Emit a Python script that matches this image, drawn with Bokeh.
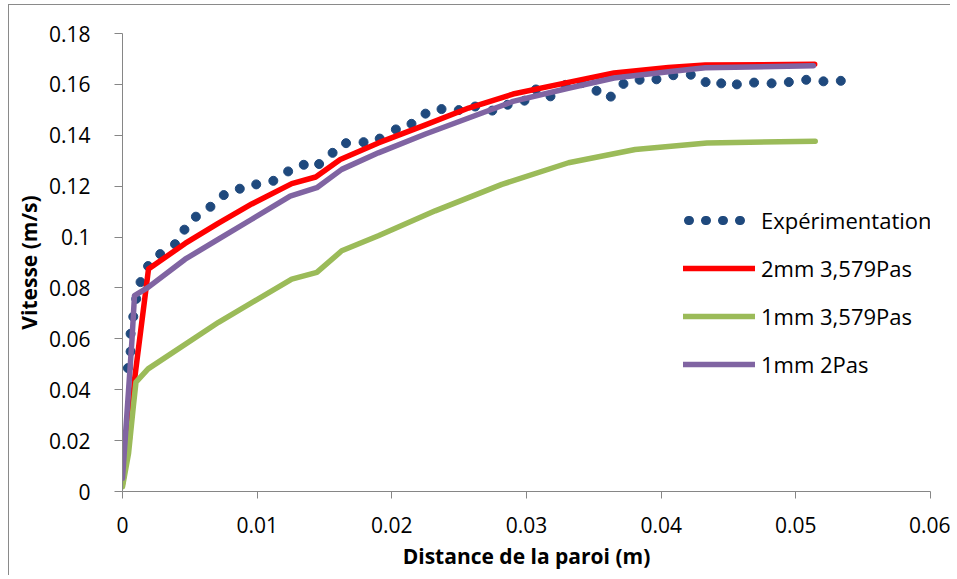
from bokeh.plotting import figure
from bokeh.models import Range1d, FixedTicker, CustomJSTickFormatter, Legend, LegendItem, ColumnDataSource
from bokeh.embed import file_html
from bokeh.resources import INLINE

# ---- data ----
x_ticks = [0, 0.01, 0.02, 0.03, 0.04, 0.05, 0.06]
y_ticks = [0, 0.02, 0.04, 0.06, 0.08, 0.1, 0.12, 0.14, 0.16, 0.18]

x_label = "Distance de la paroi (m)"
y_label = "Vitesse (m/s)"

series_names = ["Expérimentation", "2mm 3,579Pas", "1mm 3,579Pas", "1mm 2Pas"]

exp_x = [0.0004, 0.0006, 0.0006, 0.0008, 0.00102, 0.00134, 0.0019, 0.0028, 0.0039, 0.0046,
         0.00545, 0.00653, 0.00752, 0.00871, 0.00993, 0.0112, 0.0123, 0.01346, 0.0146, 0.0156,
         0.0166, 0.0179, 0.0191, 0.0203, 0.02146, 0.0225, 0.02369, 0.02497, 0.02619, 0.02746,
         0.0286, 0.02985, 0.0307, 0.03178, 0.0329, 0.0341, 0.0352, 0.03626, 0.0372, 0.0384,
         0.03965, 0.0409, 0.0422, 0.0433, 0.04446, 0.04562, 0.0469, 0.0482, 0.04948, 0.05077,
         0.05205, 0.05334]
exp_y = [0.0485, 0.055, 0.062, 0.0687, 0.0757, 0.0823, 0.0886, 0.0933, 0.0972, 0.1029,
         0.108, 0.1119, 0.1165, 0.119, 0.1207, 0.1221, 0.1258, 0.1284, 0.1287, 0.1331,
         0.1369, 0.1373, 0.1387, 0.1423, 0.1445, 0.1485, 0.1503, 0.1499, 0.1513, 0.1497,
         0.152, 0.1536, 0.158, 0.1553, 0.1598, 0.1605, 0.1575, 0.1552, 0.1602, 0.1618,
         0.162, 0.1636, 0.1638, 0.1609, 0.1604, 0.16, 0.1607, 0.1604, 0.1609, 0.1618,
         0.1612, 0.1614]

red_x = [0, 0.0005, 0.0009, 0.00193, 0.00465, 0.00713, 0.0096, 0.01257, 0.01435, 0.01617,
         0.019, 0.0225, 0.0257, 0.029, 0.0331, 0.0365, 0.04054, 0.04327, 0.0514]
red_y = [0.003, 0.02, 0.0443, 0.0874, 0.0975, 0.1055, 0.113, 0.121, 0.1236, 0.1305,
         0.137, 0.1441, 0.1507, 0.1562, 0.1608, 0.1645, 0.1666, 0.1676, 0.1679]

green_x = [0, 0.00045, 0.0008, 0.001, 0.0019, 0.00713, 0.01257, 0.01443, 0.01628, 0.019,
           0.02322, 0.02817, 0.03312, 0.03807, 0.0434, 0.05144]
green_y = [0.0019, 0.015, 0.0332, 0.043, 0.0482, 0.0665, 0.0835, 0.0861, 0.0946, 0.1005,
           0.1103, 0.1207, 0.1292, 0.1344, 0.137, 0.1377]

purple_x = [0, 0.00045, 0.0007, 0.00089, 0.0019, 0.00465, 0.00713, 0.0096, 0.01245, 0.01443,
            0.01628, 0.019, 0.0225, 0.0257, 0.029, 0.0331, 0.0365, 0.04054, 0.04327, 0.0513]
purple_y = [0.0052, 0.0398, 0.0593, 0.077, 0.0802, 0.0913, 0.0992, 0.107, 0.1161, 0.1194,
            0.1266, 0.1331, 0.1405, 0.1468, 0.1533, 0.1585, 0.1625, 0.165, 0.1665, 0.1673]

# ---- styles ----
C_EXP = "#1F497D"
C_RED = "#FF0000"
C_GREEN = "#9BBB59"
C_PURPLE = "#8064A2"
AXIS_COLOR = "#868686"
FONT = "Open Sans"

p = figure(frame_width=808, frame_height=458,
           min_border_left=113, min_border_right=20, min_border_top=28, min_border_bottom=84,
           x_range=Range1d(0, 0.06), y_range=Range1d(0, 0.18),
           output_backend="svg", toolbar_location=None)
p.styles = {"border-left": "1px solid #8a8a8a", "border-top": "1px solid #8a8a8a",
            "margin-top": "4px", "margin-left": "8px"}
# range far outside the frame: used only so the legend can show the dotted-line style
p.extra_y_ranges = {"legend_only": Range1d(10, 11)}

p.background_fill_color = "white"
p.border_fill_color = "white"
p.outline_line_color = None
p.xgrid.visible = False
p.ygrid.visible = False

fmt = CustomJSTickFormatter(code="""
let s = tick.toFixed(2);
s = s.replace(/0+$/, '').replace(/\\.$/, '');
return s;
""")

for ax, ticks in ((p.xaxis[0], x_ticks), (p.yaxis[0], y_ticks)):
    ax.ticker = FixedTicker(ticks=ticks)
    ax.formatter = fmt
    ax.axis_line_color = AXIS_COLOR
    ax.axis_line_width = 1
    ax.major_tick_line_color = AXIS_COLOR
    ax.major_tick_in = 0
    ax.minor_tick_line_color = None
    ax.major_label_text_font = FONT
    ax.major_label_text_font_size = "21px"
    ax.major_label_text_color = "#000000"
    ax.axis_label_text_font = FONT
    ax.axis_label_text_font_size = "21px"
    ax.axis_label_text_font_style = "bold"
    ax.axis_label_text_color = "#000000"

p.xaxis[0].major_tick_out = 7
p.xaxis[0].major_label_standoff = 18
p.xaxis[0].axis_label_standoff = 6
p.xaxis[0].axis_label = x_label

p.yaxis[0].major_tick_out = 8
p.yaxis[0].major_label_standoff = 24
p.yaxis[0].axis_label_standoff = 3
p.yaxis[0].axis_label = y_label

# experimental points
src_exp = ColumnDataSource(dict(x=exp_x, y=exp_y))
p.scatter("x", "y", source=src_exp, size=9, marker="circle",
          fill_color=C_EXP, line_color=C_EXP)
# dotted-line style of the experimental series, shown in the legend only
exp_leg = p.line(exp_x, exp_y, y_range_name="legend_only", line_color=C_EXP,
                 line_width=9, line_dash="1 16", line_dash_offset=12, line_cap="round")

r_red = p.line(red_x, red_y, line_color=C_RED, line_width=5.5, line_join="round", line_cap="round")
r_green = p.line(green_x, green_y, line_color=C_GREEN, line_width=5.5, line_join="round", line_cap="round")
r_purple = p.line(purple_x, purple_y, line_color=C_PURPLE, line_width=5.5, line_join="round", line_cap="round")

legend = Legend(items=[
    LegendItem(label=series_names[0], renderers=[exp_leg]),
    LegendItem(label=series_names[1], renderers=[r_red]),
    LegendItem(label=series_names[2], renderers=[r_green]),
    LegendItem(label=series_names[3], renderers=[r_purple]),
], location=(561, 112))
legend.border_line_color = None
legend.background_fill_alpha = 0
legend.padding = 0
legend.margin = 0
legend.spacing = 18
legend.glyph_width = 72
legend.glyph_height = 30
legend.label_height = 30
legend.label_standoff = 6
legend.label_text_font = FONT
legend.label_text_font_size = "22px"
legend.label_text_color = "#000000"
p.add_layout(legend, "center")

open("out.html", "w").write(file_html(p, INLINE))
